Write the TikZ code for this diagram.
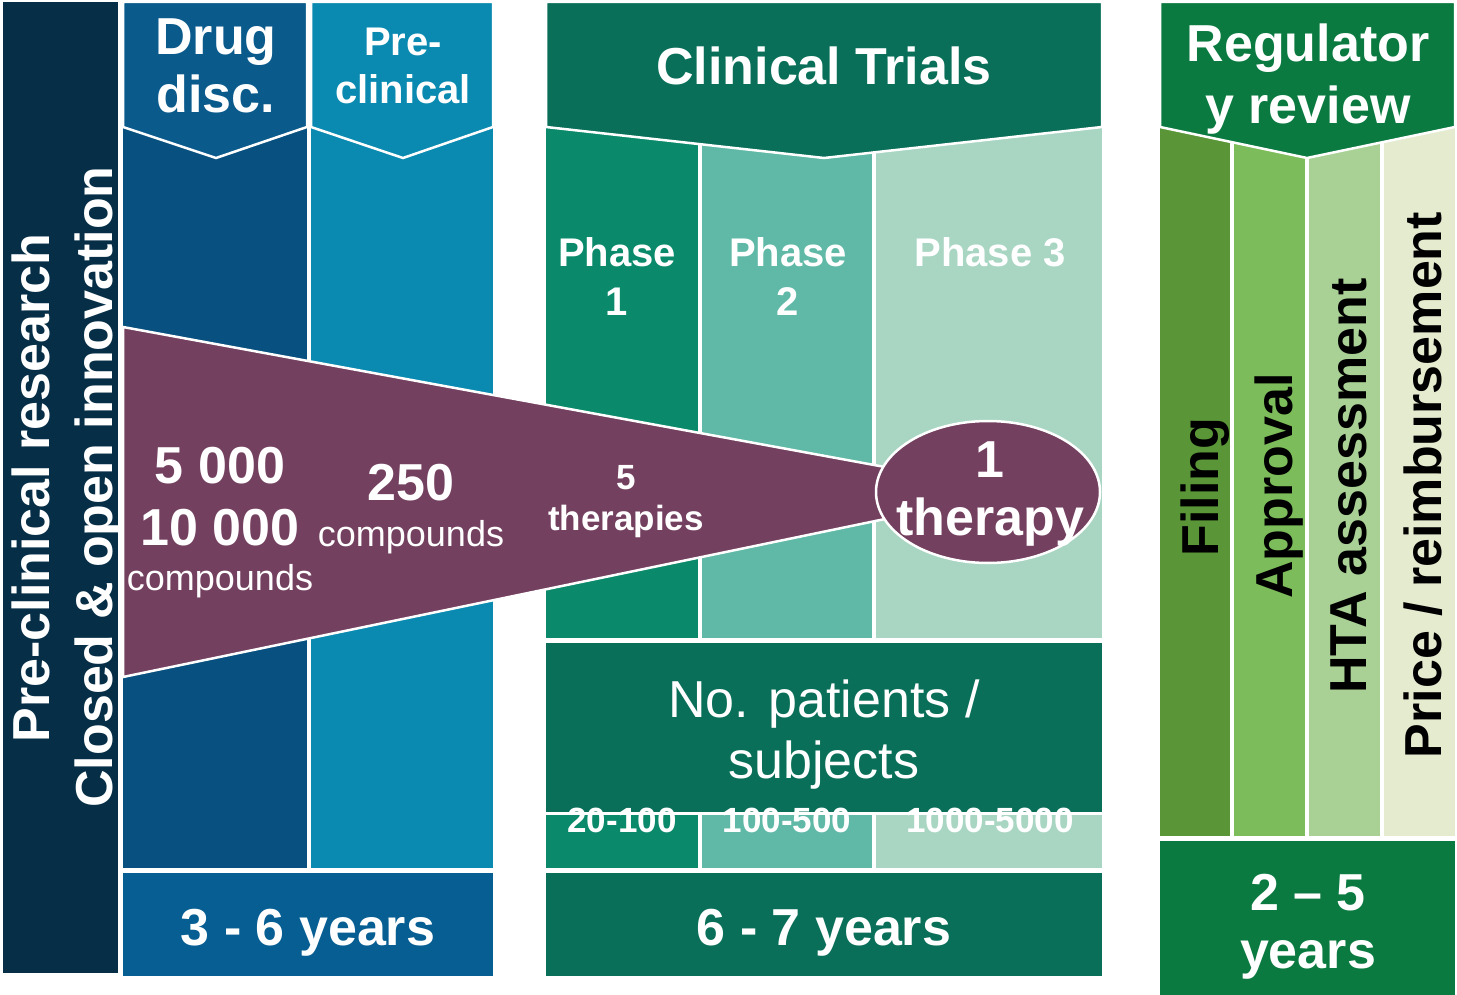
\documentclass[tikz,border=0pt]{standalone}
\usepackage{fontspec}
\setmainfont{Liberation Sans}

\definecolor{preNavy}{HTML}{062F47}
\definecolor{drugHead}{HTML}{0A5A8C}
\definecolor{drugBody}{HTML}{08507F}
\definecolor{preClin}{HTML}{0A8AB0}
\definecolor{yrsBlue}{HTML}{065E92}
\definecolor{ctGreen}{HTML}{0A6F59}
\definecolor{phaseA}{HTML}{0A8A6A}
\definecolor{phaseB}{HTML}{5FB9A6}
\definecolor{phaseC}{HTML}{A9D5C3}
\definecolor{regGreen}{HTML}{0B7A40}
\definecolor{regA}{HTML}{5A9638}
\definecolor{regB}{HTML}{7CBC5A}
\definecolor{regC}{HTML}{A9D196}
\definecolor{regD}{HTML}{E5EBCF}
\definecolor{funnel}{HTML}{74405F}

\newcommand{\bigfont}{\fontsize{52}{58}\selectfont\bfseries}
\newcommand{\headfont}{\fontsize{52}{62}\selectfont\bfseries}
\newcommand{\phasefont}{\fontsize{40}{48}\selectfont\bfseries}
\newcommand{\smallfont}{\fontsize{35}{41}\selectfont\bfseries}
\newcommand{\cpdfont}{\fontsize{36}{42}\selectfont}
\newcommand{\plainfont}{\fontsize{52}{61}\selectfont}

\begin{document}
\begin{tikzpicture}[x=1pt,y=-1pt,
    hdr/.style={draw=white, line width=2.5pt},
    lbl/.style={text=white, anchor=base, align=center, inner sep=0pt},
    vlbl/.style={anchor=base, rotate=90, inner sep=0pt}]
\useasboundingbox (0,0) rectangle (1457,995);

% discovery and pre-clinical
\fill[preNavy] (3,2) rectangle (118,973);
\fill[drugBody] (123,2) rectangle (307,868);
\fill[preClin] (311,2) rectangle (493,868);
\fill[yrsBlue] (123,873) rectangle (493,976);
\draw[hdr, fill=drugHead] (123,2) -- (307,2) -- (307,127) -- (216,158) -- (123,127) -- cycle;
\draw[hdr, fill=preClin] (311,2) -- (493,2) -- (493,127) -- (403,158) -- (311,127) -- cycle;

% clinical trials
\foreach \xa/\xb/\col in {546/698/phaseA, 702/872/phaseB, 876/1102/phaseC}{
    \fill[\col] (\xa,127) rectangle (\xb,638);
    \fill[\col] (\xa,815) rectangle (\xb,868);
}
\fill[ctGreen] (546,643) rectangle (1102,812);
\fill[ctGreen] (546,873) rectangle (1102,976);
\draw[hdr, fill=ctGreen] (546,2) -- (1102,2) -- (1102,127) -- (824,158) -- (546,127) -- cycle;

% regulatory review
\foreach \xa/\xb/\col in {1160/1230/regA, 1234/1305/regB, 1309/1380/regC, 1384/1455/regD}
    \fill[\col] (\xa,127) rectangle (\xb,836);
\fill[regGreen] (1160,841) rectangle (1455,995);
\draw[hdr, fill=regGreen] (1160,2) -- (1455,2) -- (1455,127) -- (1307,158) -- (1160,127) -- cycle;

% funnel
\draw[hdr, fill=funnel] (123,327) -- (885,467) -- (885,519) -- (123,677) -- cycle;
\draw[hdr, fill=funnel] (988,492) ellipse [x radius=112, y radius=71];
\node[lbl, font=\bigfont] (onether) at (990,535) {1\\therapy};

% headers
\node[lbl, font=\bigfont] (drug) at (216,113) {Drug\\disc.};
\node[lbl, font=\phasefont] (precl) at (403,104) {Pre-\\clinical};
\node[lbl, font=\headfont] (ctrials) at (824,85) {Clinical Trials};
\node[lbl, font=\headfont] (regrev) at (1308,124) {Regulator\\y review};
\node[lbl, font=\phasefont] (ph1) at (617,315) {Phase\\1};
\node[lbl, font=\phasefont] (ph2) at (788,315) {Phase\\2};
\node[lbl, font=\phasefont] (ph3) at (990,267) {Phase 3};

% funnel figures
\node[lbl, font=\bigfont] (n5000) at (220,545) {5 000\\[4pt]10 000};
\node[lbl, font=\cpdfont] (cpdA) at (220,590) {compounds};
\node[lbl, font=\bigfont] (n250) at (411,500) {250};
\node[lbl, font=\cpdfont] (cpdB) at (411,546) {compounds};
\node[lbl, font=\smallfont] (n5) at (626,530) {5\\therapies};

% patients
\node[lbl, font=\plainfont] (patients) at (824,778) {No. patients /\\subjects};
\node[lbl, font=\smallfont] (pa1) at (622,832) {20-100};
\node[lbl, font=\smallfont] (pa2) at (787,832) {100-500};
\node[lbl, font=\smallfont] (pa3) at (990,832) {1000-5000};

% durations
\node[lbl, font=\bigfont] (yrs36) at (308,945) {3 - 6 years};
\node[lbl, font=\bigfont] (yrs67) at (824,945) {6 - 7 years};
\node[lbl, font=\bigfont] (yrs25) at (1308,968) {2 -- 5\\years};

% vertical labels
\node[vlbl, text=white, font=\bigfont] (research) at (49,488) {Pre-clinical research};
\node[vlbl, text=white, font=\bigfont] (innov) at (112,487) {Closed \& open innovation};
\node[vlbl, font=\bigfont] (filing) at (1218,487) {Filing};
\node[vlbl, font=\bigfont] (approval) at (1292,486) {Approval};
\node[vlbl, font=\bigfont] (hta) at (1366,486) {HTA assessment};
\node[vlbl, font=\bigfont] (price) at (1441,485) {Price / reimbursement};
\end{tikzpicture}
\end{document}
